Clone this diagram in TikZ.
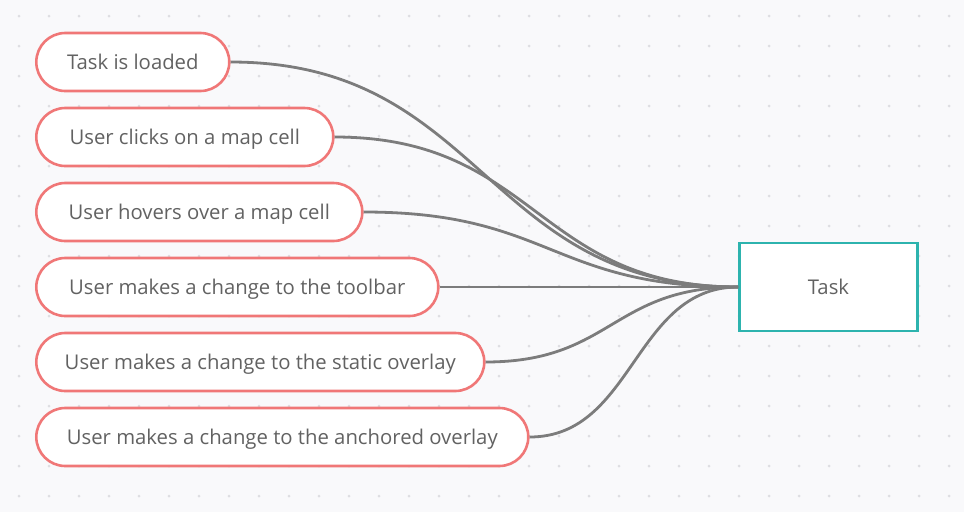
\documentclass[tikz,border=0pt]{standalone}
\usepackage{fontspec}
\setmainfont{Open Sans}
\usetikzlibrary{calc}
\definecolor{bgc}{HTML}{F9F9FB}
\definecolor{dotc}{HTML}{DEDEE2}
\definecolor{evc}{HTML}{F07777}
\definecolor{taskc}{HTML}{2DB3AE}
\definecolor{txtc}{HTML}{626262}
\definecolor{linec}{HTML}{7C7C7C}
\tikzset{
  ev/.style={draw=evc, line width=2.6pt, fill=white, rounded corners=29pt,
    minimum height=58pt, inner sep=0pt, anchor=west, text=txtc,
    text height=14.5pt, text depth=0pt,
    font=\fontsize{20.3}{24}\selectfont},
  taskbox/.style={draw=taskc, line width=2.6pt, fill=white, minimum width=178pt,
    minimum height=88pt, inner sep=0pt, text=txtc, text height=14.5pt, text depth=0pt,
    font=\fontsize{20.3}{24}\selectfont},
  conn/.style={draw=linec, line width=2.8pt}
}
\newcommand{\curveto}[2]{%
  \draw[conn] let \p1=(#1.east), \p2=(#2.west) in
    (\p1) .. controls ({(\x1+\x2)/2},\y1) and ({(\x1+\x2)/2},\y2) .. (\p2);}
\begin{document}
\begin{tikzpicture}[x=1pt,y=-1pt]
\fill[bgc] (0,0) rectangle (964,512);
\useasboundingbox (0,0) rectangle (964,512);
\foreach \i in {0,...,31} \foreach \j in {0,...,16} \fill[dotc] (19+30*\i,16+30*\j) circle (1.5);
\node[ev, minimum width=193pt] (e1) at (35,62) {Task is loaded};
\node[ev, minimum width=297pt] (e2) at (35,137) {User clicks on a map cell};
\node[ev, minimum width=326pt] (e3) at (35,212) {User hovers over a map cell};
\node[ev, minimum width=402pt] (e4) at (35,287) {User makes a change to the toolbar};
\node[ev, minimum width=448pt] (e5) at (35,362) {User makes a change to the static overlay};
\node[ev, minimum width=492pt] (e6) at (35,437) {User makes a change to the anchored overlay};
\node[taskbox] (task) at (828.5,287) {Task};
\foreach \ev in {e1,e2,e3,e4,e5,e6} {\curveto{\ev}{task}}
\end{tikzpicture}
\end{document}
